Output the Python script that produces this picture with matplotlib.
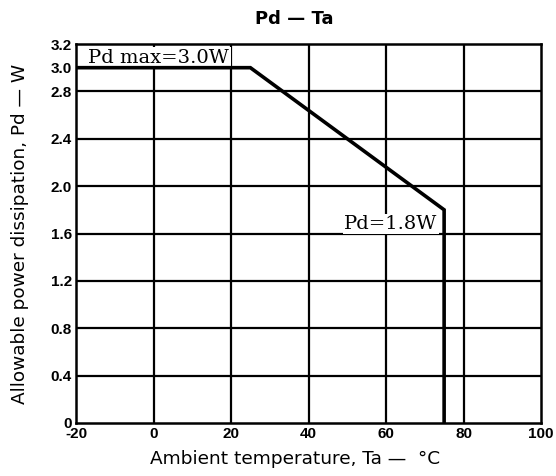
import matplotlib
matplotlib.use("Agg")
import matplotlib.pyplot as plt

# Data
curve_ta = [-20, 25, 75, 75]
curve_pd = [3.0, 3.0, 1.8, 0.0]
x_ticks = [-20, 0, 20, 40, 60, 80, 100]
y_ticks = [0, 0.4, 0.8, 1.2, 1.6, 2.0, 2.4, 2.8, 3.0, 3.2]
y_tick_labels = ["0", "0.4", "0.8", "1.2", "1.6", "2.0", "2.4", "2.8", "3.0", "3.2"]
x_grid = [0, 20, 40, 60, 80]
y_grid = [0.4, 0.8, 1.2, 1.6, 2.0, 2.4, 2.8]

plt.rcParams['font.family'] = ['Liberation Sans', 'DejaVu Sans']

fig = plt.figure(figsize=(5.56, 4.76), dpi=100)
ax = fig.add_axes([76/556, 1-423/476, (541-76)/556, (423-44)/476])
ax.set_xlim(-20, 100)
ax.set_ylim(0, 3.2)

ax.vlines(x_grid, 0, 3.2, colors='black', linewidth=1.6, zorder=1)
ax.hlines(y_grid, -20, 100, colors='black', linewidth=1.6, zorder=1)
ax.plot(curve_ta, curve_pd, color='black', linewidth=2.6, zorder=5,
        solid_joinstyle='miter')

for s in ax.spines.values():
    s.set_linewidth(1.8)

ax.set_xticks(x_ticks)
ax.set_xticklabels([str(v) for v in x_ticks])
ax.set_yticks(y_ticks)
ax.set_yticklabels(y_tick_labels)
ax.tick_params(length=0, labelsize=11, pad=3)
for lab in ax.get_xticklabels() + ax.get_yticklabels():
    lab.set_fontweight('bold')

ax.text(-16.8, 3.085, "Pd max=3.0W", family='DejaVu Serif', fontsize=14,
        ha='left', va='center', zorder=4,
        bbox=dict(facecolor='white', edgecolor='none', pad=1.0))
ax.text(73.3, 1.68, "Pd=1.8W", family='DejaVu Serif', fontsize=14,
        ha='right', va='center', zorder=4,
        bbox=dict(facecolor='white', edgecolor='none', pad=1.0))

fig.text(294/556, 1-19/476, "Pd — Ta", fontsize=13, fontweight='bold',
         family='DejaVu Sans', ha='center', va='center')
fig.text(295/556, 1-459/476, "Ambient temperature, Ta —  °C", fontsize=13.3,
         family='DejaVu Sans', ha='center', va='center')
fig.text(20/556, 1-234/476, "Allowable power dissipation, Pd — W", fontsize=13.3,
         family='DejaVu Sans', ha='center', va='center', rotation=90)

fig.savefig("out.png", dpi=100)
